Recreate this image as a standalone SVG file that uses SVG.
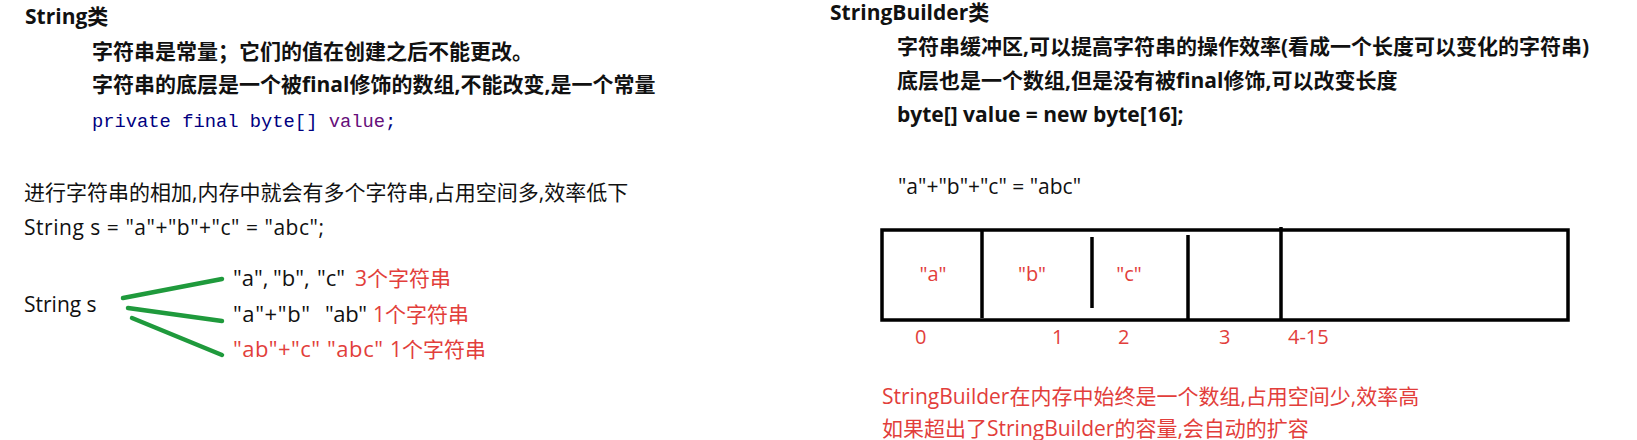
<svg xmlns="http://www.w3.org/2000/svg" width="1637" height="440" viewBox="0 0 1637 440">
<style>
text{font-family:"Open Sans","Noto Sans CJK SC",sans-serif;font-size:21px;fill:#111}
.b{font-weight:bold}
.r{fill:#e23e3b}
.q{font-size:22px}
.code{font-family:"Liberation Mono","DejaVu Sans Mono",monospace;font-size:18.8px;fill:#000080}
.pv{fill:#660e7a}
.g{stroke:#1f9a3c;stroke-width:4.5;stroke-linecap:round;fill:none}
.bx{stroke:#000;stroke-width:3.5;fill:none}
.idx{font-size:20px;fill:#e23e3b}
.cell{font-size:20px;fill:#e23e3b;text-anchor:middle}
</style>
<rect width="1637" height="440" fill="#fff"/>
<g id="string-section">
<text class="b" x="25" y="24">String类</text>
<text class="b" x="92" y="59">字符串是常量；它们的值在创建之后不能更改。</text>
<text class="b" x="92" y="92">字符串的底层是一个被final修饰的数组,不能改变,是一个常量</text>
<text class="code" x="92" y="127">private final byte[] <tspan class="pv">value</tspan>;</text>
<text x="24" y="200">进行字符串的相加,内存中就会有多个字符串,占用空间多,效率低下</text>
<text x="24" y="235" textLength="300">String s = "a"+"b"+"c" = "abc";</text>
</g>
<g id="node-string-s"><text x="24" y="312">String s</text></g>
<g id="node-abc3"><text y="286"><tspan class="q" x="233">"a",</tspan><tspan class="q" x="273">"b",</tspan><tspan class="q" x="317">"c"</tspan><tspan class="r" x="355">3个字符串</tspan></text></g>
<g id="node-ab1"><text y="322"><tspan class="q" x="233" textLength="77">"a"+"b"</tspan><tspan class="q" x="325" textLength="42">"ab"</tspan><tspan class="r" x="373">1个字符串</tspan></text></g>
<g id="node-abc1"><text class="r" y="357"><tspan class="q" x="233" textLength="87">"ab"+"c"</tspan><tspan class="q" x="327" textLength="56">"abc"</tspan><tspan x="390">1个字符串</tspan></text></g>
<g id="connectors">
<line class="g" x1="123" y1="298" x2="222" y2="279"/>
<line class="g" x1="128" y1="308" x2="222" y2="321"/>
<line class="g" x1="132" y1="318" x2="222" y2="355"/>
</g>
<g id="stringbuilder-section">
<text class="b" x="830" y="20">StringBuilder类</text>
<text class="b" x="897" y="54">字符串缓冲区,可以提高字符串的操作效率(看成一个长度可以变化的字符串)</text>
<text class="b" x="897" y="88">底层也是一个数组,但是没有被final修饰,可以改变长度</text>
<text class="b" x="897" y="122">byte[] value = new byte[16];</text>
<text x="898" y="194">"a"+"b"+"c" = "abc"</text>
</g>
<g id="array">
<rect class="bx" x="882" y="230" width="686" height="90"/>
<line class="bx" x1="982" y1="230" x2="982" y2="318"/>
<line class="bx" x1="1092" y1="237" x2="1092" y2="308"/>
<line class="bx" x1="1188" y1="235" x2="1188" y2="320"/>
<line class="bx" x1="1281" y1="227" x2="1281" y2="320"/>
<text class="cell" x="933" y="281">"a"</text>
<text class="cell" x="1032" y="281">"b"</text>
<text class="cell" x="1129" y="281">"c"</text>
<text class="idx" x="915" y="344">0</text>
<text class="idx" x="1052" y="344">1</text>
<text class="idx" x="1118" y="344">2</text>
<text class="idx" x="1219" y="344">3</text>
<text class="idx" x="1288" y="344">4-15</text>
</g>
<g id="notes">
<text class="r" x="882" y="404">StringBuilder在内存中始终是一个数组,占用空间少,效率高</text>
<text class="r" x="882" y="436">如果超出了StringBuilder的容量,会自动的扩容</text>
</g>
</svg>
